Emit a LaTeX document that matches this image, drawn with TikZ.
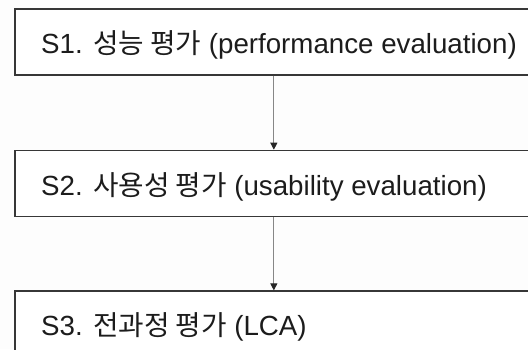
\documentclass[tikz,border=0pt]{standalone}
\usepackage{fontspec}
\setmainfont{Liberation Sans}
\newfontfamily\krfont{Noto Sans CJK KR}
\usetikzlibrary{arrows.meta,positioning}
\definecolor{boxline}{RGB}{55,55,55}
\definecolor{arrowgray}{RGB}{135,135,135}
\definecolor{textdark}{RGB}{28,28,28}
\definecolor{paper}{RGB}{253,253,253}
\tikzset{
  stage/.style={rectangle,draw=boxline,line width=1.7pt,fill=white,
                minimum width=518pt,minimum height=66pt,inner sep=0pt},
  stagetext/.style={anchor=base west,text=textdark,inner sep=0pt,
                    font=\fontsize{27.7}{33}\selectfont},
  fl/.style={-{Triangle[length=7pt,width=7pt,color=black!85]},draw=arrowgray,line width=1pt},
}

\begin{document}
\begin{tikzpicture}[x=1pt,y=1pt]
  \useasboundingbox (0,0) rectangle (528,-349);
  \fill[paper] (0,0) rectangle (528,-349);
  \node[stage,anchor=north west] (s1) at (14,-8) {};
  \node[stage,below=74pt of s1] (s2) {};
  \node[stage,below=73pt of s2] (s3) {};
  \node[stagetext] (t1) at ([xshift=27pt,yshift=-45.5pt]s1.north west)
    {S1. {\krfont 성능 평가} (performance evaluation)};
  \node[stagetext] (t2) at ([xshift=27pt,yshift=-45.5pt]s2.north west)
    {S2. {\krfont 사용성 평가} (usability evaluation)};
  \node[stagetext] (t3) at ([xshift=27pt,yshift=-45.5pt]s3.north west)
    {S3. {\krfont 전과정 평가} (LCA)};
  \draw[fl] (s1) -- (s2);
  \draw[fl] (s2) -- (s3);
\end{tikzpicture}
\end{document}
